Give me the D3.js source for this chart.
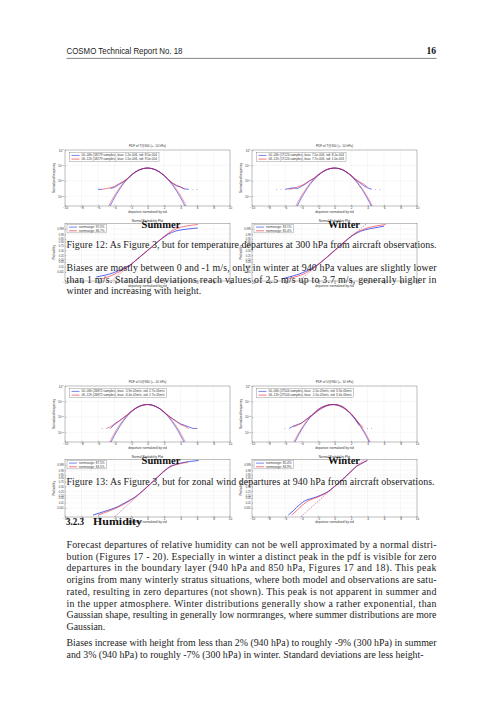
<!DOCTYPE html>
<html lang="en">
<head>
<meta charset="UTF-8">
<title>COSMO Technical Report No. 18 - page 16</title>
<script src="https://d3js.org/d3.v7.min.js"></script>
<style>
  html, body { margin: 0; padding: 0; background: #fff; }
  svg { display: block; }
  .tick text { font-family: "Liberation Sans", Arial, sans-serif; font-size: 3.1px; fill: #333; }
  .tick line { stroke: #444; stroke-width: 0.3; }
  .domain { display: none; }
  .grid { stroke: #cdcdcd; stroke-width: 0.3; stroke-dasharray: 0.8 0.8; }
  .small { font-family: "Liberation Sans", Arial, sans-serif; font-size: 3.1px; fill: #333; }
  .body { font-family: "Liberation Serif", "Times New Roman", serif; font-size: 9.9px; fill: #1c1c1c; }
</style>
</head>
<body>
<div id="page"></div>
<script>
// ------------------------ Data ------------------------

const xTicks = [-10, -8, -6, -4, -2, 0, 2, 4, 6, 8, 10];
const pdfExpTicks = [0, -1, -2, -3];
const probTickLabels = ["0.999", "0.99", "0.95", "0.90", "0.75", "0.50", "0.25", "0.10", "0.05", "0.01", "0.001"];
const probTickZ = [3.09, 2.33, 1.64, 1.28, 0.67, 0, -0.67, -1.28, -1.64, -2.33, -3.09];

// empirical pdf, log10 of normalized frequency, null = empty bin
const pdfX = [-7, -6.5, -6, -5.5, -5, -4.5, -4, -3.5, -3, -2.5, -2, -1.5, -1, -0.5, 0, 0.5, 1, 1.5, 2, 2.5, 3, 3.5, 4, 4.5, 5, 5.5, 6, 6.5, 7];
const t300SumBlue = [null, null, -2.55, -2.55, null, -2.5, -2.42, -2.25, -2.1, -1.9, -1.65, -1.44, -1.29, -1.2, -1.17, -1.2, -1.29, -1.45, -1.66, -1.92, -2.15, -2.32, -2.4, -2.52, -2.55, null, -2.55, null, null];
const t300SumRed = [null, null, null, -2.55, -2.5, -2.45, -2.35, -2.2, -2.05, -1.88, -1.64, -1.44, -1.29, -1.2, -1.17, -1.2, -1.29, -1.44, -1.64, -1.9, -2.12, -2.28, -2.4, -2.55, null, -2.55, null, null, null];
const t300WinBlue = [-2.55, null, -2.55, -2.5, -2.45, -2.5, -2.35, -2.2, -2.0, -1.85, -1.62, -1.43, -1.28, -1.2, -1.17, -1.2, -1.28, -1.44, -1.65, -1.9, -2.1, -2.3, -2.45, -2.55, null, -2.55, null, null, null];
const t300WinRed = [null, -2.55, null, -2.55, -2.5, -2.4, -2.3, -2.15, -1.98, -1.83, -1.62, -1.43, -1.28, -1.2, -1.17, -1.2, -1.28, -1.43, -1.63, -1.86, -2.05, -2.2, -2.4, null, -2.55, null, null, null, null];
const u940SumBlue = [null, null, null, -2.75, null, -2.75, -2.5, -2.3, -2.1, -1.9, -1.66, -1.46, -1.32, -1.23, -1.2, -1.23, -1.33, -1.48, -1.7, -1.93, -2.12, -2.3, -2.45, -2.55, -2.65, -2.75, -2.75, null, null];
const u940SumRed = [null, null, null, null, -2.75, -2.65, -2.45, -2.28, -2.08, -1.88, -1.65, -1.46, -1.32, -1.23, -1.2, -1.23, -1.32, -1.47, -1.68, -1.9, -2.1, -2.28, -2.5, -2.6, -2.75, null, -2.75, null, null];
const u940WinBlue = [null, null, null, -2.75, -2.6, -2.5, -2.4, -2.2, -2.0, -1.82, -1.6, -1.42, -1.3, -1.22, -1.2, -1.24, -1.35, -1.55, -1.82, -2.15, -2.55, null, -2.75, null, null, null, null, null, null];
const u940WinRed = [null, null, -2.75, null, -2.65, -2.55, -2.42, -2.2, -1.98, -1.8, -1.6, -1.42, -1.3, -1.22, -1.2, -1.24, -1.34, -1.53, -1.78, -2.1, -2.45, -2.7, null, -2.75, null, null, null, null, null];

// gaussian fits, log10
const fitX = [-5, -4.5, -4, -3.5, -3, -2.5, -2, -1.5, -1, -0.5, 0, 0.5, 1, 1.5, 2, 2.5, 3, 3.5, 4, 4.5, 5];
const t300SumFitBlue = [-4.17, -3.6, -3.09, -2.64, -2.25, -1.92, -1.65, -1.44, -1.29, -1.2, -1.17, -1.2, -1.29, -1.44, -1.65, -1.92, -2.25, -2.64, -3.09, -3.6, -4.17];
const t300SumFitRed = [-3.95, -3.42, -2.95, -2.54, -2.18, -1.88, -1.63, -1.43, -1.29, -1.2, -1.17, -1.2, -1.29, -1.43, -1.63, -1.88, -2.18, -2.54, -2.95, -3.42, -3.95];
const t300WinFitBlue = [-4.2, -3.62, -3.1, -2.65, -2.26, -1.93, -1.66, -1.45, -1.29, -1.2, -1.17, -1.2, -1.3, -1.46, -1.68, -1.96, -2.3, -2.7, -3.16, -3.68, -4.25];
const t300WinFitRed = [-3.98, -3.44, -2.96, -2.55, -2.19, -1.89, -1.64, -1.44, -1.29, -1.2, -1.17, -1.2, -1.29, -1.45, -1.66, -1.93, -2.25, -2.62, -3.05, -3.54, -4.08];
const u940SumFitBlue = [-4.33, -3.73, -3.2, -2.73, -2.33, -1.98, -1.7, -1.48, -1.33, -1.23, -1.2, -1.23, -1.33, -1.48, -1.7, -1.98, -2.33, -2.73, -3.2, -3.73, -4.33];
const u940SumFitRed = [-4.1, -3.55, -3.06, -2.62, -2.25, -1.93, -1.67, -1.47, -1.32, -1.23, -1.2, -1.23, -1.32, -1.47, -1.67, -1.93, -2.25, -2.62, -3.06, -3.55, -4.1];
const u940WinFitBlue = [-3.85, -3.32, -2.84, -2.43, -2.07, -1.78, -1.53, -1.36, -1.26, -1.2, -1.21, -1.28, -1.4, -1.59, -1.83, -2.14, -2.51, -2.93, -3.41, -3.95, -4.53];
const u940WinFitRed = [-3.7, -3.2, -2.75, -2.36, -2.02, -1.75, -1.52, -1.36, -1.26, -1.2, -1.21, -1.27, -1.39, -1.57, -1.8, -2.1, -2.45, -2.85, -3.3, -3.82, -4.38];

// normal probability plots: departure at each probit level
const probZ = [-4.1, -3.8, -3.5, -3, -2.5, -2, -1.5, -1, 0, 1, 1.5, 2, 2.5, 3, 3.24, 3.5, 3.74];
const t300SumProbBlue = [null, -6.2, -5.0, -3.7, -2.8, -2.0, -1.5, -1.0, 0, 1.0, 1.5, 2.1, 2.8, 4.3, 6.1, null, null];
const t300SumProbRed = [-5.6, -4.8, -4.2, -3.3, -2.6, -2.0, -1.5, -1.0, 0, 1.0, 1.5, 2.0, 2.6, 3.3, 3.8, 4.6, 6.1];
const t300WinProbBlue = [-6.4, -5.5, -4.6, -3.5, -2.7, -2.0, -1.45, -0.95, 0, 0.95, 1.45, 2.0, 2.7, 3.8, 4.8, 6.0, null];
const t300WinProbRed = [-5.6, -4.8, -4.0, -3.2, -2.5, -1.95, -1.45, -0.95, 0, 0.95, 1.45, 1.95, 2.55, 3.4, 4.0, 4.9, 6.2];
const u940SumProbBlue = [-6.6, -5.8, -5.0, -3.8, -3.0, -2.2, -1.5, -0.95, 0, 0.9, 1.35, 1.8, 2.3, 3.0, 3.6, 4.6, 6.2];
const u940SumProbRed = [-6.0, -5.3, -4.6, -3.6, -2.8, -2.1, -1.45, -0.95, 0, 0.9, 1.35, 1.8, 2.35, 3.1, 3.8, 4.9, null];
const u940WinProbBlue = [-5.6, -5.3, -5.0, -4.6, -4.1, -3.5, -2.2, -1.2, 0, 1.0, 1.45, 1.85, 2.3, 2.8, 3.2, 3.6, 4.0];
const u940WinProbRed = [-5.2, -4.9, -4.6, -4.2, -3.7, -3.1, -2.0, -1.1, 0, 0.95, 1.4, 1.85, 2.3, 2.75, 3.1, 3.5, 3.9];
const refZ = [-4.38, 3.88];
const t300SumRef = [-4.4, 3.9];
const t300WinRef = [-4.3, 3.9];
const u940SumRef = [-4.0, 3.6];
const u940WinRef = [-4.1, 3.6];

const pdfTitles = ["PDF of T@300 (+- 10 hPa)", "PDF of U@940 (+- 10 hPa)"];
const legendT300Sum = ["00.-06h (18279 samples), bias: 1.2e-006, std: 8.5e-004", "06.-12h (18279 samples), bias: 1.5e-006, std: 9.5e-004"];
const legendT300Win = ["00.-06h (17124 samples), bias: 7.5e-006, std: 8.1e-004", "06.-12h (17124 samples), bias: 7.7e-006, std: 1.0e-003"];
const legendU940Sum = ["00.-06h (26872 samples), bias: -5.9e-05m/s, std: 2.7e-05m/s", "06.-12h (26872 samples), bias: -6.4e-05m/s, std: 2.7e-05m/s"];
const legendU940Win = ["00.-06h (27504 samples), bias: -1.5e-05m/s, std: 3.3e-05m/s", "06.-12h (27504 samples), bias: -1.5e-05m/s, std: 3.4e-05m/s"];
const normT300Sum = ["normrange: 92.5%", "normrange: 86.7%"];
const normT300Win = ["normrange: 83.1%", "normrange: 85.4%"];
const normU940Sum = ["normrange: 87.5%", "normrange: 84.5%"];
const normU940Win = ["normrange: 85.4%", "normrange: 83.9%"];

// ------------------------ Page text ------------------------

const headerText = "COSMO Technical Report No. 18";
const pageNumber = "16";
const caption12 = "Figure 12: As Figure 3, but for temperature departures at 300 hPa from aircraft observations.";
const caption13 = "Figure 13: As Figure 3, but for zonal wind departures at 940 hPa from aircraft observations.";
const para1 = [
  "Biases are mostly between 0 and -1 m/s, only in winter at 940 hPa values are slightly lower",
  "than 1 m/s. Standard deviations reach values of 2.5 m/s up to 3.7 m/s, generally higher in",
  "winter and increasing with height."
];
const sectionNum = "3.2.3";
const sectionTitle = "Humidity";
const para2 = [
  "Forecast departures of relative humidity can not be well approximated by a normal distri-",
  "bution (Figures 17 - 20). Especially in winter a distinct peak in the pdf is visible for zero",
  "departures in the boundary layer (940 hPa and 850 hPa, Figures 17 and 18). This peak",
  "origins from many winterly stratus situations, where both model and observations are satu-",
  "rated, resulting in zero departures (not shown). This peak is not apparent in summer and",
  "in the upper atmosphere. Winter distributions generally show a rather exponential, than",
  "Gaussian shape, resulting in generally low normranges, where summer distributions are more",
  "Gaussian."
];
const para3 = [
  "Biases increase with height from less than 2% (940 hPa) to roughly -9% (300 hPa) in summer",
  "and 3% (940 hPa) to roughly -7% (300 hPa) in winter. Standard deviations are less height-"
];

// ------------------------ Layout ------------------------

const BLUE = "#1f2fe6", RED = "#ea1c2a", REF = "#b4358c";
const textLeft = 66.5, textWidth = 370;
const panelW = 165, pdfH = 56, probTop = 73.5, probH = 57.5;

const svg = d3.select("#page").append("svg")
  .attr("width", 504).attr("height", 712);

const panels = [
  { left: 65, top: 150, title: pdfTitles[0], season: "Summer", seasonX: 161,
    blue: t300SumBlue, red: t300SumRed, fitBlue: t300SumFitBlue, fitRed: t300SumFitRed,
    probBlue: t300SumProbBlue, probRed: t300SumProbRed, ref: t300SumRef, legend: legendT300Sum, norm: normT300Sum },
  { left: 252, top: 150, title: pdfTitles[0], season: "Winter", seasonX: 344,
    blue: t300WinBlue, red: t300WinRed, fitBlue: t300WinFitBlue, fitRed: t300WinFitRed,
    probBlue: t300WinProbBlue, probRed: t300WinProbRed, ref: t300WinRef, legend: legendT300Win, norm: normT300Win },
  { left: 65, top: 386, title: pdfTitles[1], season: "Summer", seasonX: 161,
    blue: u940SumBlue, red: u940SumRed, fitBlue: u940SumFitBlue, fitRed: u940SumFitRed,
    probBlue: u940SumProbBlue, probRed: u940SumProbRed, ref: u940SumRef, legend: legendU940Sum, norm: normU940Sum },
  { left: 252, top: 386, title: pdfTitles[1], season: "Winter", seasonX: 344,
    blue: u940WinBlue, red: u940WinRed, fitBlue: u940WinFitBlue, fitRed: u940WinFitRed,
    probBlue: u940WinProbBlue, probRed: u940WinProbRed, ref: u940WinRef, legend: legendU940Win, norm: normU940Win }
];

const figLayer = svg.append("g");
const textLayer = svg.append("g");

// ------------------------ Draw helpers ------------------------

function clipRect(id, x, y, w, h) {
  svg.append("clipPath").attr("id", id)
    .append("rect").attr("x", x).attr("y", y).attr("width", w).attr("height", h);
}

function drawLegend(g, x, y, lines, colors) {
  const lg = g.append("g");
  const box = lg.append("rect").attr("x", x).attr("y", y).attr("height", 8.6)
    .attr("fill", "#fff").attr("stroke", "#555").attr("stroke-width", 0.3);
  let maxW = 0;
  lines.forEach((s, i) => {
    const yy = y + 2.8 + i * 3.7;
    lg.append("line").attr("x1", x + 2).attr("x2", x + 10).attr("y1", yy).attr("y2", yy)
      .attr("stroke", colors[i]).attr("stroke-width", 0.6);
    const t = lg.append("text").attr("class", "small").attr("x", x + 12).attr("y", yy + 1.05).text(s);
    maxW = Math.max(maxW, t.node().getComputedTextLength());
  });
  box.attr("width", maxW + 14);
}

function seriesLine(g, xs, ys, xScale, yScale, color, opts = {}) {
  const pts = xs.map((x, i) => [x, ys[i]]);
  const line = d3.line()
    .defined(d => d[0] != null && d[1] != null)
    .x(d => xScale(d[0])).y(d => yScale(d[1]))
    .curve(opts.curve || d3.curveLinear);
  g.append("path").datum(pts)
    .attr("fill", "none").attr("stroke", color)
    .attr("stroke-width", opts.width || 0.65)
    .attr("stroke-dasharray", opts.dash || null)
    .attr("opacity", opts.opacity || 1)
    .attr("d", line);
  if (opts.dots) {
    pts.forEach((d, i) => {
      const ok = v => v && v[0] != null && v[1] != null;
      if (ok(d) && !ok(pts[i - 1]) && !ok(pts[i + 1])) {
        g.append("circle").attr("cx", xScale(d[0])).attr("cy", yScale(d[1]))
          .attr("r", 0.45).attr("fill", color);
      }
    });
  }
}

function frame(g, x0, y0, w, h) {
  g.append("rect").attr("x", x0).attr("y", y0).attr("width", w).attr("height", h)
    .attr("fill", "none").attr("stroke", "#444").attr("stroke-width", 0.35);
}

// ------------------------ PDF panel ------------------------

function drawPdf(p, idx) {
  const g = figLayer.append("g");
  const x = d3.scaleLinear().domain([-10, 10]).range([p.left, p.left + panelW]);
  const y = d3.scaleLog().domain([Math.pow(10, -3.63), 1]).range([p.top + pdfH, p.top]);
  const toPow = arr => arr.map(v => v == null ? null : Math.pow(10, v));

  g.selectAll(".gv").data(xTicks.slice(1, -1)).join("line").attr("class", "grid")
    .attr("x1", d => x(d)).attr("x2", d => x(d)).attr("y1", p.top).attr("y2", p.top + pdfH);
  g.selectAll(".gh").data(pdfExpTicks.slice(1)).join("line").attr("class", "grid")
    .attr("x1", p.left).attr("x2", p.left + panelW)
    .attr("y1", d => y(Math.pow(10, d))).attr("y2", d => y(Math.pow(10, d)));

  g.append("g").attr("transform", `translate(0,${p.top + pdfH})`)
    .call(d3.axisBottom(x).tickValues(xTicks).tickSize(-1.2).tickPadding(0.8));
  const ya = g.append("g").attr("transform", `translate(${p.left},0)`)
    .call(d3.axisLeft(y).tickValues(pdfExpTicks.map(e => Math.pow(10, e))).tickSize(-1.2).tickPadding(1.5));
  ya.selectAll(".tick text").each(function (d) {
    const t = d3.select(this);
    t.text("10");
    t.append("tspan").attr("dy", "-0.45em").attr("font-size", "2.3px").text(Math.round(Math.log10(d)));
  });
  frame(g, p.left, p.top, panelW, pdfH);

  const cid = "clipPdf" + idx;
  clipRect(cid, p.left, p.top, panelW, pdfH);
  const plot = g.append("g").attr("clip-path", `url(#${cid})`);
  seriesLine(plot, pdfX, toPow(p.blue), x, y, BLUE, { dots: true });
  seriesLine(plot, pdfX, toPow(p.red), x, y, RED, { dots: true, opacity: 0.85 });
  seriesLine(plot, fitX, toPow(p.fitBlue), x, y, BLUE, { curve: d3.curveMonotoneX, width: 0.6 });
  seriesLine(plot, fitX, toPow(p.fitRed), x, y, RED, { curve: d3.curveMonotoneX, width: 0.6, opacity: 0.75 });

  drawLegend(g, p.left + 4.5, p.top + 2.6, p.legend, [BLUE, RED]);

  g.append("text").attr("class", "small").attr("text-anchor", "middle")
    .attr("x", p.left + panelW / 2).attr("y", p.top - 3.2).text(p.title);
  g.append("text").attr("class", "small").attr("text-anchor", "middle")
    .attr("x", p.left + panelW / 2).attr("y", p.top + pdfH + 6.6).text("departure normalized by std");
  g.append("text").attr("class", "small").attr("text-anchor", "middle")
    .attr("transform", `translate(${p.left - 10.5},${p.top + pdfH / 2}) rotate(-90)`)
    .text("Normalized frequency");
}

// ------------------------ Normal probability panel ------------------------

function drawProb(p, idx) {
  const g = figLayer.append("g");
  const top = p.top + probTop;
  const x = d3.scaleLinear().domain([-10, 10]).range([p.left, p.left + panelW]);
  const y = d3.scaleLinear().domain([-4.38, 3.88]).range([top + probH, top]);

  g.selectAll(".gv").data(xTicks.slice(1, -1)).join("line").attr("class", "grid")
    .attr("x1", d => x(d)).attr("x2", d => x(d)).attr("y1", top).attr("y2", top + probH);
  g.selectAll(".gh").data(probTickZ).join("line").attr("class", "grid")
    .attr("x1", p.left).attr("x2", p.left + panelW)
    .attr("y1", d => y(d)).attr("y2", d => y(d));

  g.append("g").attr("transform", `translate(0,${top + probH})`)
    .call(d3.axisBottom(x).tickValues(xTicks).tickSize(-1.2).tickPadding(0.8));
  g.append("g").attr("transform", `translate(${p.left},0)`)
    .call(d3.axisLeft(y).tickValues(probTickZ).tickFormat((d, i) => probTickLabels[i])
      .tickSize(-1.2).tickPadding(1.2))
    .selectAll(".tick text").style("font-size", "2.6px");
  frame(g, p.left, top, panelW, probH);

  const cid = "clipProb" + idx;
  clipRect(cid, p.left, top - 1.5, panelW, probH + 1.5);
  const plot = g.append("g").attr("clip-path", `url(#${cid})`);
  seriesLine(plot, p.ref, refZ, x, y, REF, { dash: "1.6 1.1", width: 0.55 });
  seriesLine(plot, p.probBlue, probZ, x, y, BLUE, { curve: d3.curveMonotoneY, width: 0.75 });
  seriesLine(plot, p.probRed, probZ, x, y, RED, { curve: d3.curveMonotoneY, width: 0.7, opacity: 0.85 });

  drawLegend(g, p.left + 2, top + 0.8, p.norm, [BLUE, RED]);

  g.append("text").attr("class", "small").attr("text-anchor", "middle")
    .attr("x", p.left + panelW / 2).attr("y", top - 1.2).text("Normal Probability Plot");
  g.append("text").attr("class", "small").attr("text-anchor", "middle")
    .attr("x", p.left + panelW / 2).attr("y", top + probH + 6.4).text("departure normalized by std");
  g.append("text").attr("class", "small").attr("text-anchor", "middle")
    .attr("transform", `translate(${p.left - 10},${top + probH / 2}) rotate(-90)`)
    .text("Probability");

  textLayer.append("text")
    .attr("x", p.seasonX).attr("y", top + 4.2).attr("text-anchor", "middle")
    .style("font-family", "'Liberation Serif', serif").style("font-weight", "bold")
    .style("font-size", "10.6px").style("fill", "#111")
    .text(p.season);
}

panels.forEach((p, i) => { drawPdf(p, i); drawProb(p, i); });

// ------------------------ Text ------------------------

function bodyLine(str, y, justify, width) {
  const t = textLayer.append("text").attr("class", "body").attr("x", textLeft).attr("y", y).text(str);
  if (justify) t.attr("textLength", width || textWidth).attr("lengthAdjust", "spacing");
  return t;
}

function paragraph(lines, y0, step) {
  lines.forEach((s, i) => bodyLine(s, y0 + i * step, i < lines.length - 1));
}

textLayer.append("text").attr("x", textLeft).attr("y", 54.2)
  .style("font-family", "'Liberation Sans', sans-serif").style("font-size", "8.2px").style("fill", "#222")
  .attr("textLength", 116).attr("lengthAdjust", "spacingAndGlyphs").text(headerText);
textLayer.append("text").attr("x", 436).attr("y", 54.2).attr("text-anchor", "end")
  .style("font-family", "'Liberation Serif', serif").style("font-weight", "bold")
  .style("font-size", "9.6px").style("fill", "#111").text(pageNumber);
textLayer.append("line").attr("x1", textLeft).attr("x2", 436.5).attr("y1", 58.4).attr("y2", 58.4)
  .attr("stroke", "#666").attr("stroke-width", 0.8);

bodyLine(caption12, 248, true, 370);
paragraph(para1, 271, 11.7);
bodyLine(caption13, 485, true, 368);

textLayer.append("text").attr("x", textLeft - 0.5).attr("y", 525)
  .style("font-family", "'Liberation Serif', serif").style("font-weight", "bold").style("font-size", "11.4px")
  .style("fill", "#111").attr("textLength", 18).attr("lengthAdjust", "spacingAndGlyphs").text(sectionNum);
textLayer.append("text").attr("x", 93).attr("y", 525)
  .style("font-family", "'Liberation Serif', serif").style("font-weight", "bold").style("font-size", "11.4px")
  .style("fill", "#111").attr("textLength", 49).attr("lengthAdjust", "spacingAndGlyphs").text(sectionTitle);

paragraph(para2, 548, 11.7);
paragraph(para3, 646.3, 11.7);
</script>
</body>
</html>
